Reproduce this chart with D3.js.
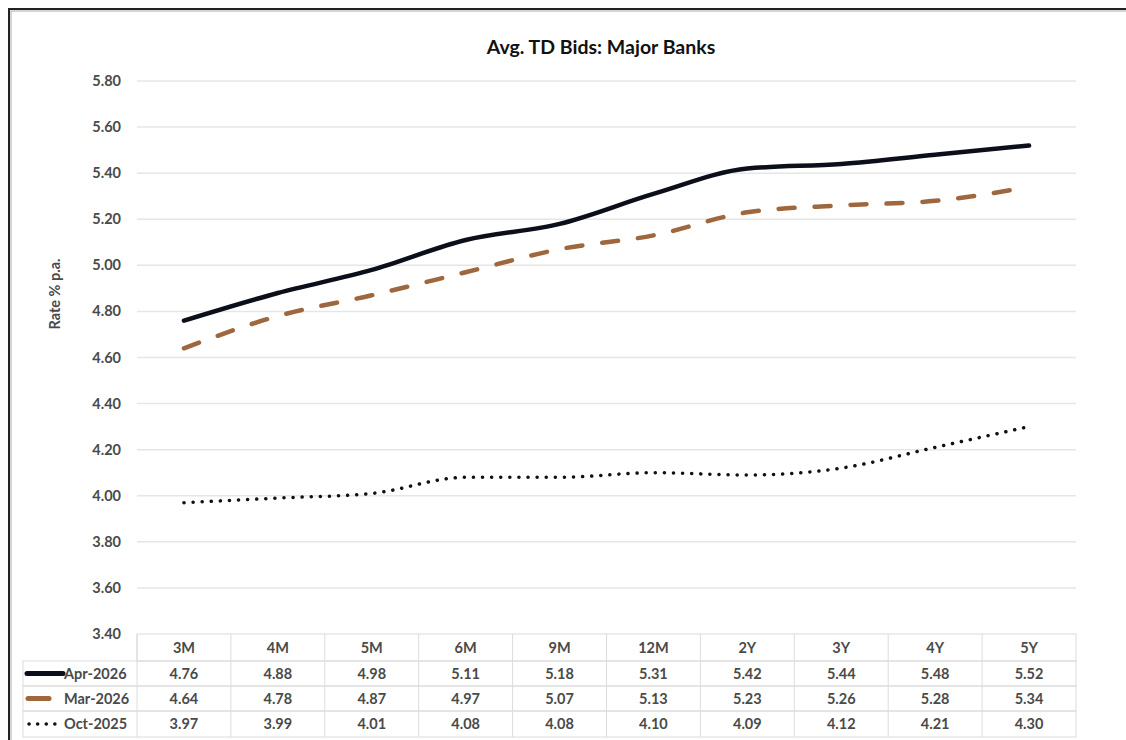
<!DOCTYPE html>
<html><head><meta charset="utf-8">
<script src="https://cdn.jsdelivr.net/npm/d3@7"></script>
<style>
body{margin:0;background:#fff;}
svg{display:block;}
text{font-family:Lato,"Open Sans",sans-serif;}
</style></head>
<body><svg id="c" width="1126" height="740"></svg>
<script>
const categories = ["3M","4M","5M","6M","9M","12M","2Y","3Y","4Y","5Y"];
const apr2026 = [4.76,4.88,4.98,5.11,5.18,5.31,5.42,5.44,5.48,5.52];
const mar2026 = [4.64,4.78,4.87,4.97,5.07,5.13,5.23,5.26,5.28,5.34];
const oct2025 = [3.97,3.99,4.01,4.08,4.08,4.10,4.09,4.12,4.21,4.30];
const seriesNames = ["Apr-2026","Mar-2026","Oct-2025"];
const yTicks = [3.40,3.60,3.80,4.00,4.20,4.40,4.60,4.80,5.00,5.20,5.40,5.60,5.80];
const title = "Avg. TD Bids: Major Banks";
const yTitle = "Rate % p.a.";

const svg = d3.select("#c");
svg.append("rect").attr("x",9).attr("y",9).attr("width",1130).attr("height",740)
  .attr("fill","none").attr("stroke","#222").attr("stroke-width",2);
svg.append("rect").attr("x",11).attr("y",11).attr("width",1130).attr("height",740)
  .attr("fill","none").attr("stroke","#aaa").attr("stroke-width",1);

const L=137, R=1076, T=81, B=634;
const x = d3.scaleBand().domain(categories).range([L,R]);
const y = d3.scaleLinear().domain([3.4,5.8]).range([B,T]);
const txtC = "#4a4a4a";

svg.append("text").attr("x",601).attr("y",54).attr("text-anchor","middle")
  .attr("font-size",19.5).attr("font-weight","bold").attr("fill","#111").text(title);

svg.append("g").selectAll("line").data(yTicks.slice(1)).join("line")
  .attr("x1",L).attr("x2",R).attr("y1",d=>y(d)).attr("y2",d=>y(d))
  .attr("stroke","#e6e6e6").attr("stroke-width",1.5);

svg.append("g").selectAll("text").data(yTicks).join("text")
  .attr("x",121).attr("y",d=>y(d)+5).attr("text-anchor","end")
  .attr("font-size",14.5).attr("font-weight","bold").attr("fill",txtC)
  .text(d=>d.toFixed(2));

svg.append("text").attr("transform","translate(60,294) rotate(-90)")
  .attr("text-anchor","middle").attr("font-size",14.5).attr("font-weight","bold")
  .attr("fill",txtC).text(yTitle);

const line = d3.line().x((d,i)=>x(categories[i])+x.bandwidth()/2).y(d=>y(d)).curve(d3.curveMonotoneX);
const styles = [
  {data:apr2026,color:"#0c0f1a",w:4.5,dash:null},
  {data:mar2026,color:"#9e673d",w:4.5,dash:"16,20"},
  {data:oct2025,color:"#111",w:3.5,dash:"0.1,9"}
];
styles.slice().reverse().forEach(s=>{
  svg.append("path").attr("d",line(s.data)).attr("fill","none")
    .attr("stroke",s.color).attr("stroke-width",s.w).attr("stroke-linecap","round")
    .attr("stroke-linejoin","round").attr("stroke-dasharray",s.dash);
});

const rowsY = [634,661,686,711,737];
const gridC = "#dcdcdc";
const tg = svg.append("g");
tg.append("rect").attr("x",L).attr("y",rowsY[0]).attr("width",R-L).attr("height",rowsY[1]-rowsY[0])
  .attr("fill","none").attr("stroke",gridC);
for(let r=1;r<4;r++){
  tg.append("rect").attr("x",23).attr("y",rowsY[r]).attr("width",R-23).attr("height",rowsY[r+1]-rowsY[r])
    .attr("fill","none").attr("stroke",gridC);
}
tg.append("line").attr("x1",L).attr("x2",L).attr("y1",rowsY[0]).attr("y2",rowsY[4]).attr("stroke",gridC);
categories.forEach((c,i)=>{
  if(i>0) tg.append("line").attr("x1",x(c)).attr("x2",x(c)).attr("y1",rowsY[0]).attr("y2",rowsY[4]).attr("stroke",gridC);
  tg.append("text").attr("x",x(c)+x.bandwidth()/2).attr("y",rowsY[0]+19).attr("text-anchor","middle")
    .attr("font-size",14.5).attr("font-weight","bold").attr("fill",txtC).text(c);
});
const all=[apr2026,mar2026,oct2025];
const legX = [[27,63],[28,49],[29,62]];
all.forEach((arr,r)=>{
  const cy=(rowsY[r+1]+rowsY[r+2])/2;
  arr.forEach((v,i)=>{
    tg.append("text").attr("x",x(categories[i])+x.bandwidth()/2).attr("y",cy+5).attr("text-anchor","middle")
      .attr("font-size",14.5).attr("font-weight","bold").attr("fill",txtC).text(v.toFixed(2));
  });
  const s=styles[r];
  tg.append("line").attr("x1",legX[r][0]).attr("x2",legX[r][1]).attr("y1",cy).attr("y2",cy)
    .attr("stroke",s.color).attr("stroke-width",r===2?3.5:5).attr("stroke-linecap","round")
    .attr("stroke-dasharray",r===2?"0.1,8.5":null);
  tg.append("text").attr("x",r===1?64:64).attr("y",cy+5).attr("text-anchor","start")
    .attr("font-size",14.5).attr("font-weight","bold").attr("fill",txtC).text(seriesNames[r]);
});
</script></body></html>
